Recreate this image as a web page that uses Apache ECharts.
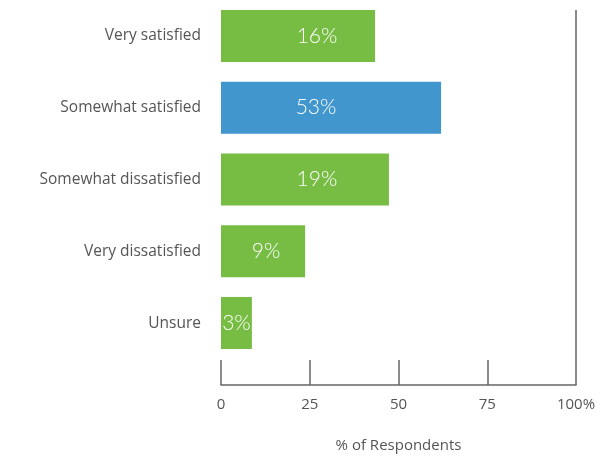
<!DOCTYPE html>
<html>
<head>
<meta charset="utf-8">
<script src="https://cdn.jsdelivr.net/npm/echarts@6/dist/echarts.min.js"></script>
<style>html,body{margin:0;padding:0;background:#fff}#c{width:600px;height:458px}</style>
</head>
<body>
<div id="c"></div>
<script>
// Data
var categories = ['Very satisfied', 'Somewhat satisfied', 'Somewhat dissatisfied', 'Very dissatisfied', 'Unsure'];
var barLengths = [43.4, 62, 47.3, 23.7, 8.7];      // drawn bar length on the 0–100 axis
var labelPercents = [16, 53, 19, 9, 3];            // printed value labels
var tickValues = [0, 25, 50, 75, 100];

// Styles
var barColors = ['#77bc43', '#4196cd', '#77bc43', '#77bc43', '#77bc43'];
var labelShift = [19, -15, 12, 3, 0];
var textFam = '"Open Sans", Lato, sans-serif';
var valFam = 'Lato, "Open Sans", sans-serif';

var chart = echarts.init(document.getElementById('c'), null, {renderer: 'canvas'});
var seriesData = barLengths.map(function (v, i) {
  return {
    value: v,
    itemStyle: {color: barColors[i]},
    label: {offset: [labelShift[i], 0], formatter: labelPercents[i] + '%'}
  };
});

chart.setOption({
  animation: false,
  grid: {left: 221, right: 24, top: 0, height: 360, containLabel: false},
  xAxis: [{
    type: 'value', min: tickValues[0], max: tickValues[tickValues.length - 1], interval: 25,
    position: 'bottom', offset: 26,
    axisLine: {show: true, lineStyle: {color: '#666', width: 1.5}},
    axisTick: {show: true, inside: true, length: 25, lineStyle: {color: '#666', width: 1.5}},
    splitLine: {show: false},
    axisLabel: {
      color: '#555', fontSize: 15, fontFamily: textFam, margin: 12,
      formatter: function (v) { return v === 100 ? '100%' : String(v); }
    },
    name: '% of Respondents', nameLocation: 'middle', nameGap: 53,
    nameTextStyle: {color: '#555', fontSize: 15, fontFamily: textFam}
  }, {
    type: 'value', min: 0, max: 100, interval: 25,
    position: 'bottom', offset: 26,
    axisLine: {show: false},
    axisTick: {show: true, inside: true, length: 375, customValues: [100], lineStyle: {color: '#666', width: 1.5}},
    splitLine: {show: false},
    axisLabel: {show: false}
  }],
  yAxis: {
    type: 'category', data: categories, inverse: true,
    axisLine: {show: false}, axisTick: {show: false},
    axisLabel: {color: '#555', fontSize: 15.5, fontFamily: textFam, margin: 20, padding: [0, 0, 3, 0]}
  },
  series: [{
    type: 'bar', data: seriesData, barWidth: 52, xAxisIndex: 0,
    label: {show: true, position: 'inside', color: '#fff', fontSize: 21, fontFamily: valFam, fontWeight: 300}
  }]
});
</script>
</body>
</html>
